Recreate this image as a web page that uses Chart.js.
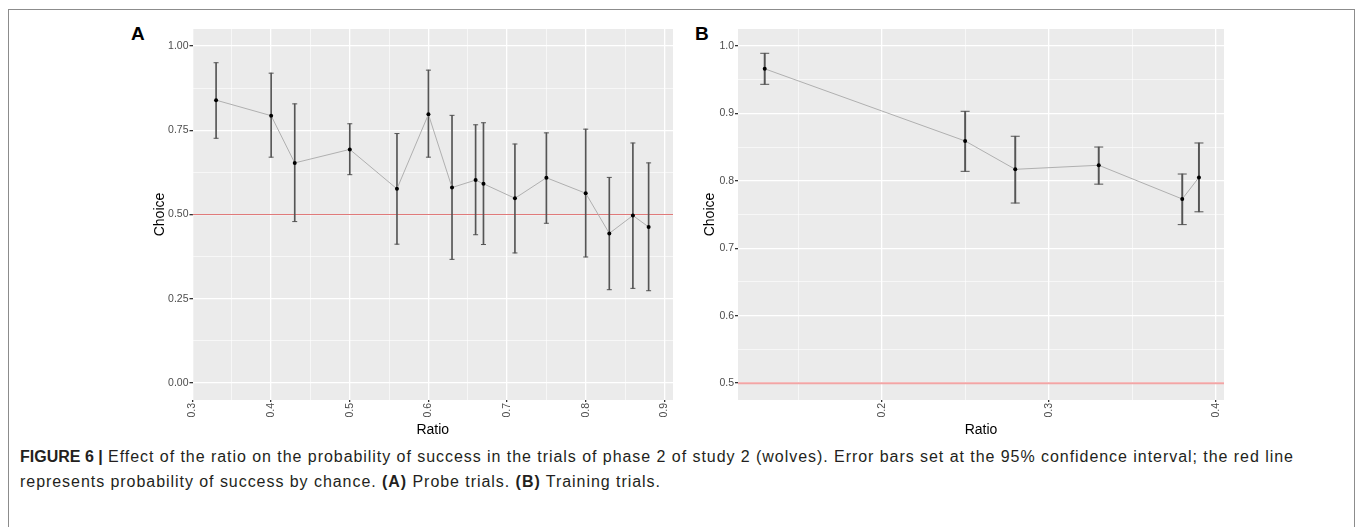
<!DOCTYPE html>
<html>
<head>
<meta charset="utf-8">
<script src="https://cdn.jsdelivr.net/npm/chart.js@4.4.0/dist/chart.umd.min.js"></script>
<style>
  body { margin: 0; background: #fff; font-family: "Liberation Sans", Arial, sans-serif; }
  #frame { position: absolute; left: 8px; top: 9px; width: 1347px; height: 540px; border: 1px solid #8c8c8c; box-sizing: border-box; }
  .wrap { position: absolute; top: 0; width: 560px; height: 440px; }
  .tag { position: absolute; top: 23px; font-weight: bold; font-size: 19px; color: #000; }
  #caption { position: absolute; left: 20px; top: 444px; font-size: 16px; line-height: 25px; color: #231f20; white-space: nowrap; letter-spacing: 0.95px; }
  #caption b.fig { letter-spacing: 0; }
</style>
</head>
<body>
<div id="frame"></div>
<div class="tag" style="left:131px">A</div>
<div class="tag" style="left:695px">B</div>
<div class="wrap" style="left:130px"><canvas id="chart-a"></canvas></div>
<div class="wrap" style="left:680px"><canvas id="chart-b"></canvas></div>
<div id="caption"><b class="fig">FIGURE 6 |</b> Effect of the ratio on the probability of success in the trials of phase 2 of study 2 (wolves). Error bars set at the 95% confidence interval; the red line<br>represents probability of success by chance. <b>(A)</b> Probe trials. <b>(B)</b> Training trials.</div>

<script>
// panel A: probe trials
const ratioA  = [0.33, 0.40, 0.43, 0.50, 0.56, 0.60, 0.63, 0.66, 0.67, 0.71, 0.75, 0.80, 0.83, 0.86, 0.88];
const choiceA = [0.839, 0.793, 0.653, 0.693, 0.576, 0.797, 0.580, 0.602, 0.591, 0.548, 0.609, 0.563, 0.444, 0.497, 0.463];
const lowerA  = [0.726, 0.670, 0.479, 0.618, 0.412, 0.670, 0.367, 0.440, 0.411, 0.386, 0.474, 0.374, 0.277, 0.281, 0.274];
const upperA  = [0.950, 0.919, 0.828, 0.769, 0.740, 0.928, 0.794, 0.766, 0.772, 0.709, 0.742, 0.753, 0.610, 0.712, 0.653];
const yMajorA = [0, 0.25, 0.5, 0.75, 1];
const yMinorA = [0.125, 0.375, 0.625, 0.875];
const yLabelsA = ['0.00', '0.25', '0.50', '0.75', '1.00'];
const xMajorA = [0.3, 0.4, 0.5, 0.6, 0.7, 0.8, 0.9];
const xMinorA = [0.35, 0.45, 0.55, 0.65, 0.75, 0.85];
const xLabelsA = ['0.3', '0.4', '0.5', '0.6', '0.7', '0.8', '0.9'];

// panel B: training trials
const ratioB  = [0.13, 0.25, 0.28, 0.33, 0.38, 0.39];
const choiceB = [0.966, 0.859, 0.817, 0.823, 0.773, 0.805];
const lowerB  = [0.943, 0.814, 0.767, 0.795, 0.735, 0.754];
const upperB  = [0.989, 0.903, 0.866, 0.850, 0.810, 0.856];
const yMajorB = [0.5, 0.6, 0.7, 0.8, 0.9, 1.0];
const yMinorB = [0.55, 0.65, 0.75, 0.85, 0.95];
const yLabelsB = ['0.5', '0.6', '0.7', '0.8', '0.9', '1.0'];
const xMajorB = [0.2, 0.3, 0.4];
const xMinorB = [0.15, 0.25, 0.35];
const xLabelsB = ['0.2', '0.3', '0.4'];

const chance = 0.5;

const panelBg = {
  id: 'panelBg',
  beforeDraw(chart) {
    const { ctx, chartArea: a } = chart;
    ctx.save();
    ctx.fillStyle = '#ebebeb';
    ctx.fillRect(a.left, a.top, a.right - a.left, a.bottom - a.top);
    ctx.restore();
  }
};

const near = (v, arr) => arr.some(m => Math.abs(m - v) < 1e-9);
const isMajor = (c, arr) => !!(c.tick && near(c.tick.value, arr));

function axis(o) {
  const all = o.major.concat(o.minor).sort((p, q) => p - q);
  return {
    type: 'linear',
    min: o.min, max: o.max,
    offset: false,
    afterBuildTicks: s => { s.ticks = all.map(v => ({ value: v })); },
    afterFit: s => { if (o.width) s.width = o.width; if (o.height) s.height = o.height; },
    border: { display: false },
    grid: {
      offset: false,
      color: '#ffffff',
      lineWidth: c => isMajor(c, o.major) ? 1.3 : 0.6,
      tickColor: c => isMajor(c, o.major) ? '#333333' : 'rgba(0,0,0,0)',
      tickLength: o.tickLength
    },
    ticks: {
      autoSkip: false,
      padding: 1,
      minRotation: o.rot, maxRotation: o.rot,
      color: '#4d4d4d',
      font: { family: 'Liberation Sans', size: 10.5 },
      callback: v => { const i = o.major.findIndex(m => Math.abs(m - v) < 1e-9); return i < 0 ? '' : o.labels[i]; }
    },
    title: {
      display: true, text: o.title, color: '#000',
      font: { family: 'Liberation Sans', size: 14 },
      padding: o.titlePad
    }
  };
}

function makePanel(id, p) {
  const ctx = document.getElementById(id).getContext('2d');
  return new Chart(ctx, {
    type: 'line',
    data: {
      datasets: [
        {
          // means joined by a thin grey line
          data: p.ratio.map((x, i) => ({ x, y: p.choice[i] })),
          borderColor: '#b0b0b0', borderWidth: 1, tension: 0,
          pointRadius: 2, pointBackgroundColor: '#000', pointBorderWidth: 0
        },
        {
          type: 'scatter',
          data: p.ratio.map((x, i) => ({ x, y: p.lower[i] }))
                 .concat(p.ratio.map((x, i) => ({ x, y: p.upper[i] }))),
          pointStyle: 'line', pointRadius: p.cap,
          borderColor: '#555555', pointBorderWidth: 1, showLine: false
        },
        {
          type: 'bar',
          data: p.ratio.map((x, i) => ({ x, y: [p.lower[i], p.upper[i]] })),
          backgroundColor: '#555555', borderWidth: 0, barThickness: p.barW
        },
        {
          data: [{ x: p.xMin, y: chance }, { x: p.xMax, y: chance }],
          borderColor: p.redColor, borderWidth: p.redW, pointRadius: 0
        }
      ]
    },
    options: {
      responsive: true,
      maintainAspectRatio: false,
      animation: false,
      layout: { padding: { top: 29, right: p.rightPad, left: 0, bottom: 0 } },
      plugins: { legend: { display: false }, tooltip: { enabled: false } },
      scales: {
        x: axis({ min: p.xMin, max: p.xMax, major: p.xMajor, minor: p.xMinor, labels: p.xLabels,
                  rot: 90, height: 40, tickLength: 2, title: 'Ratio', titlePad: { top: 0, bottom: 1 } }),
        y: axis({ min: p.yMin, max: p.yMax, major: p.yMajor, minor: p.yMinor, labels: p.yLabels,
                  rot: 0, width: p.yWidth, tickLength: 3, title: 'Choice', titlePad: { top: 22, bottom: 0 } })
      }
    },
    plugins: [panelBg]
  });
}

makePanel('chart-a', {
  ratio: ratioA, choice: choiceA, lower: lowerA, upper: upperA,
  xMin: 0.3, xMax: 0.911, yMin: -0.05, yMax: 1.05,
  xMajor: xMajorA, xMinor: xMinorA, xLabels: xLabelsA,
  yMajor: yMajorA, yMinor: yMinorA, yLabels: yLabelsA,
  yWidth: 62.5, rightPad: 17, cap: 2.5, barW: 1,
  redColor: '#e07a7a', redW: 1.2
});

makePanel('chart-b', {
  ratio: ratioB, choice: choiceB, lower: lowerB, upper: upperB,
  xMin: 0.114, xMax: 0.405, yMin: 0.475, yMax: 1.025,
  xMajor: xMajorB, xMinor: xMinorB, xLabels: xLabelsB,
  yMajor: yMajorB, yMinor: yMinorB, yLabels: yLabelsB,
  yWidth: 58, rightPad: 16, cap: 4.5, barW: 1.3,
  redColor: '#f2a5a5', redW: 2
});
</script>
</body>
</html>
